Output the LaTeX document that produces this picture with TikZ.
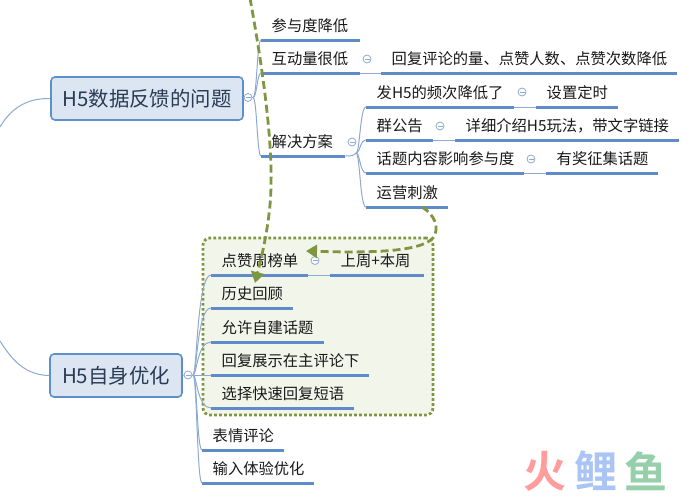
\documentclass[tikz,border=0pt]{standalone}
\usepackage{fontspec}
\setmainfont{Noto Sans CJK SC}[BoldFont={Noto Sans CJK SC Bold}]
\usetikzlibrary{arrows.meta}
\definecolor{uline}{HTML}{5F8CC8}
\definecolor{thinl}{HTML}{8FAAD0}
\definecolor{boxfill}{HTML}{DCE6F2}
\definecolor{boxline}{HTML}{5F8FCB}
\definecolor{boxtext}{HTML}{2B3B55}
\definecolor{relgreen}{HTML}{7F9640}
\definecolor{grpfill}{HTML}{F2F5EA}
\definecolor{wmred}{HTML}{FF9C9C}
\definecolor{wmblue}{HTML}{A9C4F5}
\definecolor{wmgreen}{HTML}{95D0AA}
\newcommand{\uln}[6][]{% name, x0, x1, yline, text
  \pgfmathsetlengthmacro{\ulw}{(#4-#3)*1pt}
  \pgfmathsetlengthmacro{\ulx}{\ulw-21pt}
  \node[topic,minimum width=\ulw,text width=\ulx,#1] (#2) at (#3,#5) {#6};
}
\newcommand{\brch}[2]{\draw[conn] (#1) .. controls ([xshift=4pt]#1) and ([xshift=4pt]#1 |- #2.south west) .. (#2.south west);}
\tikzset{
  x=1pt,y=-1pt,
  topic/.style={anchor=south west,inner xsep=10.5pt,inner ysep=6.5pt,text height=11pt,text depth=2pt,
    font=\fontsize{15.3}{18}\selectfont,text=black!90,
    append after command={(\tikzlastnode.south west) edge[line width=3pt,uline] (\tikzlastnode.south east)}},
  conn/.style={draw=thinl,line width=1pt},
  mainbox/.style={draw=boxline,fill=boxfill,line width=1.6pt,rounded corners=4pt,text=boxtext,
    font=\fontsize{20.4}{24}\selectfont,inner sep=0pt},
  collapse/.style={circle,draw=thinl,line width=.8pt,minimum size=8pt,inner sep=0pt,fill=white,
    path picture={\draw[thinl,line width=.8pt] ([xshift=1.5pt]path picture bounding box.west) -- ([xshift=-1.5pt]path picture bounding box.east);}},
  relation/.style={draw=relgreen,line width=2.8pt,dash pattern=on 8pt off 4pt,
    -{Triangle[length=11pt,width=13pt,fill=relgreen]}},
  groupbox/.style={draw=relgreen,fill=grpfill,line width=2.8pt,dash pattern=on 2.6pt off 2.4pt,rounded corners=7pt,inner sep=0pt},
  wm/.style={font=\bfseries\fontsize{43}{46}\selectfont,inner sep=0pt}
}
\begin{document}
\begin{tikzpicture}
\useasboundingbox (0,0) rectangle (692,496);
\clip (0,0) rectangle (692,496);
\fill[white] (0,0) rectangle (692,496);

% group box
\node[groupbox,minimum width=230pt,minimum height=177pt] (grp) at (318,326.5) {};

% watermark
\node[wm,text=wmred] (wm1) at (545,471) {火};
\node[wm,text=wmblue] (wm2) at (596,471) {鲤};
\node[wm,text=wmgreen] (wm3) at (646,471) {鱼};

% main boxes
\node[mainbox,minimum width=192pt,minimum height=43pt] (m1) at (147,98.5) {H5数据反馈的问题};
\node[mainbox,minimum width=132pt,minimum height=43pt] (m2) at (116,375.5) {H5自身优化};

\coordinate (lt1) at (0,127);
\coordinate (lt2) at (0,341);
\draw[conn] (m1.west) .. controls (25,98) and (10,110) .. (lt1);
\draw[conn] (m2.west) .. controls (25,375) and (12,360) .. (lt2);

% upper branch
\uln{t1}{261}{360}{40}{参与度降低}
\uln{t2}{261}{360}{73}{互动量很低}
\uln{t2a}{381}{677}{73}{回复评论的量、点赞人数、点赞次数降低}
\uln{t3}{261}{345}{156}{解决方案}
\uln{s1}{366}{514}{107}{发H5的频次降低了}
\uln{s1a}{536}{618}{107}{设置定时}
\uln{s2}{366}{433}{140}{群公告}
\uln{s2a}{455}{679}{140}{详细介绍H5玩法，带文字链接}
\uln{s3}{366}{524}{173}{话题内容影响参与度}
\uln{s3a}{546}{658}{173}{有奖征集话题}
\uln{s4}{366}{448}{207}{运营刺激}

% lower branch
\uln{g1}{211}{308}{275}{点赞周榜单}
\uln{g1a}{330}{424}{275}{上周+本周}
\uln{g2}{211}{293}{308}{历史回顾}
\uln{g3}{211}{324}{342}{允许自建话题}
\uln{g4}{211}{369}{375}{回复展示在主评论下}
\uln{g5}{211}{354}{408}{选择快速回复短语}
\uln{g6}{202}{284}{450}{表情评论}
\uln{g7}{202}{314}{483}{输入体验优化}

% collapse markers
\node[collapse] (c0) at (248,97.5) {};
\node[collapse] (c1) at (188,375) {};
\node[collapse] (c2) at (367,59) {};
\node[collapse] (c3) at (352,142) {};
\node[collapse] (c4) at (522,92) {};
\node[collapse] (c5) at (440,126) {};
\node[collapse] (c6) at (531,159) {};
\node[collapse] (c7) at (315,260.5) {};

% junctions
\coordinate (j0) at (253,97.5);
\coordinate (j1) at (193,375);
\coordinate (j3) at (356,153);

\draw[conn] (m1.east) -- (c0);
\draw[conn] (m2.east) -- (c1);
\draw[conn] (c0) -- (j0);
\draw[conn] (c1) -- (j1);
\draw[conn] (t3.south east) .. controls (350,156) and (354,156) .. (j3);
\foreach \t in {t1,t2,t3}{\brch{j0}{\t}}
\foreach \t in {s1,s2,s3,s4}{\brch{j3}{\t}}
\foreach \t in {g1,g2,g3,g4,g5,g6,g7}{\brch{j1}{\t}}
\draw[conn] (t2.south east) -- (t2a.south west);
\draw[conn] (s1.south east) -- (s1a.south west);
\draw[conn] (s2.south east) -- (s2a.south west);
\draw[conn] (s3.south east) -- (s3a.south west);
\draw[conn] (g1.south east) -- (g1a.south west);

% relationships
\coordinate (r1s) at (250,-2);
\coordinate (r1e) at (255,283);
\coordinate (r2s) at (422,207);
\coordinate (r2e) at (306,251);
\draw[relation] (r1s) .. controls (262,65) and (275,150) .. (270,205) .. controls (267,235) and (262,255) .. (r1e);
\draw[relation] (r2s) .. controls (435,215) and (440,228) .. (433,238) .. controls (420,252) and (370,253) .. (r2e);
\end{tikzpicture}
\end{document}
